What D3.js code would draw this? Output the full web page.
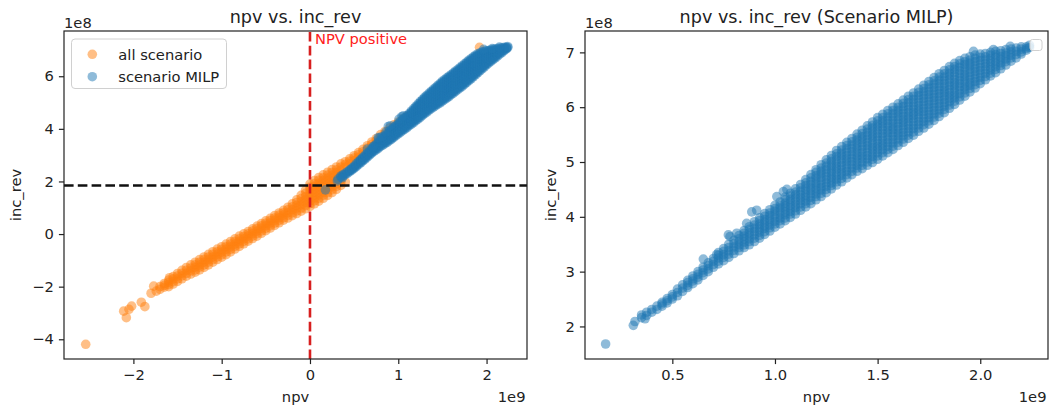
<!DOCTYPE html>
<html><head><meta charset="utf-8">
<script src="https://cdn.jsdelivr.net/npm/d3@7"></script>
<style>body{margin:0;background:#fff}svg{display:block}</style>
</head><body><svg id="c" width="1049" height="410"></svg>
<script>
// Units: npv in 1e9, inc_rev in 1e8 (as shown by the axis offset texts)
// ---- "scenario MILP" cloud ----
const milpColNpv = [0.35,0.375,0.4,0.425,0.45,0.475,0.5,0.525,0.55,0.575,0.6,0.625,0.65,0.675,0.7,0.725,0.75,0.775,0.8,0.825,0.85,0.875,0.9,0.925,0.95,0.975,1.0,1.025,1.05,1.075,1.1,1.125,1.15,1.175,1.2,1.225,1.25,1.275,1.3,1.325,1.35,1.375,1.4,1.425,1.45,1.475,1.5,1.525,1.55,1.575,1.6,1.625,1.65,1.675,1.7,1.725,1.75,1.775,1.8,1.825,1.85,1.875,1.9,1.925,1.95,1.975,2.0,2.025,2.05,2.075,2.1,2.125,2.15,2.175,2.2,2.225,2.24];
const milpColRev = [
[2.16,2.21],[2.20,2.26],[2.26,2.31],[2.31,2.37],[2.37,2.41,2.44],[2.43,2.47,2.51],[2.50,2.54,2.58],
[2.56,2.62,2.68],[2.64,2.70,2.76],[2.71,2.75,2.80,2.84],[2.78,2.83,2.87,2.92],[2.85,2.90,2.95,3.00],[2.93,2.98,3.03,3.08],[3.00,3.05,3.11,3.16],[3.08,3.13,3.19,3.24],
[3.14,3.19,3.25,3.30,3.35],[3.20,3.26,3.31,3.37,3.42],[3.26,3.32,3.38,3.44,3.50],[3.33,3.39,3.45,3.51,3.57],
[3.38,3.44,3.49,3.55,3.60,3.66],[3.44,3.49,3.54,3.60,3.65,3.70,3.75],[3.49,3.55,3.60,3.66,3.71,3.77,3.82],
[3.55,3.61,3.67,3.73,3.79,3.85,3.91],[3.61,3.66,3.72,3.77,3.82,3.87,3.93,3.98],[3.68,3.73,3.79,3.84,3.90,3.95,4.01,4.06],[3.74,3.80,3.85,3.91,3.96,4.02,4.07,4.13],
[3.81,3.87,3.92,3.98,4.04,4.10,4.15,4.21],[3.87,3.93,3.98,4.04,4.10,4.16,4.21,4.27],
[3.93,3.98,4.04,4.09,4.15,4.20,4.25,4.31,4.36],[3.99,4.05,4.10,4.16,4.21,4.27,4.32,4.38,4.43],[4.05,4.11,4.17,4.22,4.28,4.34,4.40,4.45,4.51],[4.12,4.18,4.24,4.30,4.35,4.41,4.47,4.53,4.59],
[4.18,4.24,4.29,4.35,4.40,4.46,4.51,4.57,4.62,4.68],[4.24,4.30,4.36,4.42,4.48,4.53,4.59,4.65,4.71,4.77],
[4.31,4.37,4.42,4.48,4.53,4.59,4.64,4.70,4.75,4.81,4.86],[4.37,4.43,4.49,4.54,4.60,4.66,4.72,4.78,4.83,4.89,4.95],[4.44,4.50,4.56,4.62,4.68,4.74,4.80,4.86,4.92,4.98,5.04],
[4.51,4.57,4.62,4.68,4.73,4.79,4.84,4.90,4.95,5.01,5.06,5.12],[4.58,4.64,4.69,4.75,4.81,4.87,4.92,4.98,5.04,5.10,5.15,5.21],[4.64,4.70,4.76,4.81,4.87,4.93,4.99,5.05,5.11,5.16,5.22,5.28],
[4.71,4.77,4.83,4.89,4.95,5.01,5.06,5.12,5.18,5.24,5.30,5.36],[4.77,4.83,4.89,4.95,5.01,5.07,5.13,5.19,5.25,5.31,5.37,5.43],
[4.83,4.89,4.94,5.00,5.06,5.11,5.17,5.23,5.28,5.34,5.40,5.45,5.51],[4.88,4.94,5.00,5.06,5.11,5.17,5.23,5.29,5.35,5.41,5.46,5.52,5.58],[4.94,5.00,5.06,5.12,5.18,5.24,5.30,5.36,5.42,5.48,5.54,5.60,5.66],
[4.99,5.05,5.10,5.16,5.22,5.27,5.33,5.39,5.45,5.50,5.56,5.62,5.67,5.73],[5.05,5.11,5.17,5.23,5.28,5.34,5.40,5.46,5.52,5.58,5.64,5.69,5.75,5.81],
[5.11,5.17,5.23,5.29,5.34,5.40,5.46,5.52,5.58,5.64,5.70,5.75,5.81,5.87],[5.17,5.23,5.29,5.35,5.41,5.47,5.53,5.58,5.64,5.70,5.76,5.82,5.88,5.94],
[5.23,5.29,5.35,5.41,5.47,5.53,5.59,5.64,5.70,5.76,5.82,5.88,5.94,6.00],[5.30,5.36,5.42,5.48,5.53,5.59,5.65,5.71,5.77,5.83,5.89,5.94,6.00,6.06],
[5.36,5.42,5.48,5.54,5.60,5.66,5.72,5.77,5.83,5.89,5.95,6.01,6.07,6.13],[5.43,5.49,5.55,5.61,5.67,5.73,5.79,5.84,5.90,5.96,6.02,6.08,6.14,6.20],
[5.49,5.55,5.61,5.67,5.73,5.79,5.85,5.90,5.96,6.02,6.08,6.14,6.20,6.26],[5.56,5.62,5.68,5.74,5.80,5.86,5.92,5.97,6.03,6.09,6.15,6.21,6.27,6.33],
[5.62,5.68,5.74,5.80,5.86,5.92,5.98,6.04,6.10,6.16,6.22,6.28,6.34,6.40],[5.69,5.75,5.81,5.87,5.93,5.99,6.05,6.11,6.17,6.23,6.29,6.35,6.41,6.47],
[5.76,5.82,5.88,5.94,6.00,6.06,6.12,6.18,6.24,6.30,6.36,6.42,6.48,6.54],[5.83,5.89,5.95,6.01,6.07,6.13,6.19,6.25,6.31,6.37,6.43,6.49,6.55,6.61],
[5.90,5.96,6.02,6.08,6.14,6.20,6.26,6.31,6.37,6.43,6.49,6.55,6.61,6.67],[5.98,6.04,6.10,6.16,6.21,6.27,6.33,6.39,6.45,6.51,6.57,6.62,6.68,6.74],
[6.05,6.11,6.17,6.22,6.28,6.34,6.40,6.45,6.51,6.57,6.63,6.69,6.74,6.80],[6.13,6.19,6.25,6.31,6.37,6.43,6.49,6.55,6.61,6.67,6.73,6.79,6.85],
[6.20,6.26,6.32,6.37,6.43,6.49,6.55,6.60,6.66,6.72,6.78,6.83,6.89],[6.28,6.34,6.40,6.45,6.51,6.57,6.63,6.69,6.75,6.80,6.86,6.92],
[6.35,6.41,6.47,6.53,6.59,6.65,6.71,6.77,6.83,6.89,6.95],[6.43,6.49,6.55,6.61,6.67,6.73,6.79,6.85,6.91,6.97],
[6.50,6.56,6.62,6.68,6.74,6.80,6.86,6.92,6.98],[6.57,6.62,6.68,6.73,6.79,6.84,6.89,6.95,7.00],[6.63,6.69,6.74,6.80,6.85,6.91,6.96,7.02],
[6.70,6.76,6.81,6.87,6.92,6.98,7.03],[6.77,6.83,6.88,6.94,6.99,7.05],[6.84,6.90,6.95,7.01,7.06],[6.90,6.96,7.02,7.08],[6.97,7.01,7.06,7.10],[7.04,7.07,7.10],[7.09,7.13]
];
// isolated "scenario MILP" points (outliers / edge bubbles)
const milpExtraNpv = [0.175,0.31,0.318,0.367,0.651,0.716,0.773,0.781,0.814,0.862,0.887,0.911,1.009,1.041,1.058,1.967,2.064,2.146];
const milpExtraRev = [1.68,2.02,2.09,2.14,3.23,3.31,3.67,3.64,3.70,3.88,4.09,4.12,4.37,4.46,4.50,7.02,7.05,7.11];

// ---- "all scenario" points that are visible (not hidden under the MILP cloud) ----
const allColNpv = [-1.70,-1.65,-1.60,-1.55,-1.50,-1.45,-1.40,-1.35,-1.30,-1.25,-1.20,-1.15,-1.10,-1.05,-1.00,-0.95,-0.90,-0.85,-0.80,-0.75,-0.70,-0.65,-0.60,-0.55,-0.50,-0.45,-0.40,-0.35,-0.30,-0.25,-0.20,-0.15,-0.10,-0.05,0.00,0.05,0.10,0.15,0.20,0.25,0.30,0.35,0.40,0.45,0.50,0.55,0.60,0.65,0.70,0.75,0.80,0.85,0.90,0.95,1.00,1.05,1.10];
const allColRev = [
[-2.10,-2.00],[-2.02,-1.95,-1.88],[-2.00,-1.92,-1.83,-1.75],[-1.90,-1.81,-1.71,-1.62],[-1.80,-1.70,-1.60,-1.50],[-1.70,-1.59,-1.49,-1.38],[-1.60,-1.49,-1.38,-1.27],[-1.52,-1.40,-1.29,-1.17],
[-1.45,-1.36,-1.26,-1.17,-1.07],[-1.36,-1.26,-1.17,-1.07,-0.97],[-1.27,-1.17,-1.07,-0.97,-0.87],[-1.17,-1.07,-0.97,-0.87,-0.77],[-1.07,-0.97,-0.87,-0.77,-0.67],[-0.97,-0.87,-0.77,-0.67,-0.57],
[-0.88,-0.78,-0.68,-0.58,-0.48],[-0.78,-0.68,-0.58,-0.48,-0.38],[-0.68,-0.58,-0.48,-0.38,-0.28],[-0.57,-0.47,-0.38,-0.28,-0.18],[-0.47,-0.37,-0.28,-0.18,-0.08],[-0.37,-0.28,-0.18,-0.09,0.01],
[-0.27,-0.18,-0.08,0.01,0.10],[-0.17,-0.08,0.02,0.11,0.20],[-0.08,0.02,0.11,0.21,0.30],[0.03,0.12,0.22,0.31,0.40],[0.13,0.22,0.32,0.41,0.50],[0.23,0.32,0.42,0.51,0.60],
[0.33,0.42,0.52,0.61,0.70],[0.43,0.52,0.62,0.71,0.80],[0.53,0.62,0.72,0.81,0.90],[0.61,0.71,0.82,0.92,1.02],[0.70,0.81,0.93,1.04,1.15],[0.78,0.88,0.99,1.09,1.20,1.30],
[0.87,0.99,1.11,1.23,1.35,1.47],[0.96,1.08,1.20,1.31,1.43,1.55,1.67],[1.05,1.16,1.26,1.37,1.48,1.58,1.69,1.79,1.90],[1.15,1.26,1.37,1.48,1.59,1.70,1.81,1.92,2.03],
[1.25,1.36,1.48,1.59,1.70,1.81,1.93,2.04,2.15],[1.36,1.47,1.58,1.69,1.81,1.92,2.03,2.14,2.25],[1.47,1.58,1.69,1.80,1.91,2.02,2.13,2.24,2.35],[1.58,1.69,1.80,1.91,2.02,2.12,2.23,2.34,2.45],
[1.70,1.81,1.91,2.02,2.13,2.23,2.34,2.44,2.55],[1.85,1.97,2.08,2.20,2.32,2.43,2.55,2.67],[1.98,2.55,2.65,2.75],[2.67,2.77,2.86],[2.79,2.89,2.98],[2.91,3.01,3.10],[3.03,3.13,3.22],
[3.17,3.27,3.36],[3.32,3.41,3.50],[3.45,3.54,3.63],[3.58,3.68,3.78],[3.72,3.81,3.90],[3.85,3.94,4.03],[3.98,4.07,4.15],[4.10,4.18,4.26],[4.23,4.30,4.37],[4.38,4.43,4.48]
];
const allExtraNpv = [-2.54,-2.11,-2.08,-2.02,-2.05,-1.91,-1.87,-1.80,-1.77,-1.74,-1.59,1.92];
const allExtraRev = [-4.19,-2.93,-3.18,-2.74,-2.86,-2.59,-2.76,-2.25,-1.98,-2.17,-1.66,7.10];

// reference lines
const npvZero = 0;
const incRevThreshold = 1.845;

// tick values
const leftXTicks = [-2,-1,0,1,2];
const leftYTicks = [-4,-2,0,2,4,6];
const rightXTicks = [0.5,1.0,1.5,2.0];
const rightYTicks = [2,3,4,5,6,7];

const seriesNames = ["all scenario","scenario MILP"];
const ORANGE = "#ff7f0e", BLUE = "#1f77b4";

function toPoints(colX, colY, exX, exY){
  const pts = [];
  colX.forEach((x,i)=>colY[i].forEach(y=>pts.push([x,y])));
  exX.forEach((x,i)=>pts.push([x, exY[i]]));
  return pts;
}
const milpPts = toPoints(milpColNpv, milpColRev, milpExtraNpv, milpExtraRev);
const allPts = toPoints(allColNpv, allColRev, allExtraNpv, allExtraRev);

const FONT = '"DejaVu Sans", sans-serif';
const FS = 14.7, INK = "#222", R = 4.8;
const svg = d3.select("#c");
const yTop = 31, yBottom = 359;

function marker(sel, color){
  return sel.attr("r",R).attr("fill",color).attr("fill-opacity",0.5);
}

function panel(id, left, right, xDom, yDom, xTicks, yTicks, xFmt, yFmt, title, series){
  const x = d3.scaleLinear().domain(xDom).range([left,right]);
  const y = d3.scaleLinear().domain(yDom).range([yBottom,yTop]);
  svg.append("clipPath").attr("id",id).append("rect")
    .attr("x",left).attr("y",yTop).attr("width",right-left).attr("height",yBottom-yTop);
  const g = svg.append("g").attr("clip-path",`url(#${id})`);
  series.forEach(s=>{
    marker(g.append("g").selectAll("circle").data(s.pts).join("circle")
      .attr("cx",d=>x(d[0])).attr("cy",d=>y(d[1])), s.color);
  });
  const ax = svg.append("g").attr("transform",`translate(0,${yBottom})`)
    .call(d3.axisBottom(x).tickValues(xTicks).tickFormat(xFmt).tickSize(5.1).tickPadding(5.5).tickSizeOuter(0));
  const ay = svg.append("g").attr("transform",`translate(${left},0)`)
    .call(d3.axisLeft(y).tickValues(yTicks).tickFormat(yFmt).tickSize(5.1).tickPadding(5.1).tickSizeOuter(0));
  [ax,ay].forEach(a=>{
    a.select(".domain").remove();
    a.attr("font-family",FONT).attr("font-size",FS);
    a.selectAll("text").attr("fill",INK);
    a.selectAll("line").attr("stroke",INK).attr("stroke-width",1.2);
  });
  const cx = (left+right)/2;
  svg.append("text").attr("x",cx).attr("y",22.8).attr("text-anchor","middle")
    .attr("font-family",FONT).attr("font-size",17.6).attr("fill",INK).text(title);
  svg.append("text").attr("x",left).attr("y",28).attr("font-family",FONT).attr("font-size",FS).attr("fill",INK).text("1e8");
  svg.append("text").attr("x",right-1.5).attr("y",401.5).attr("text-anchor","end").attr("font-family",FONT).attr("font-size",FS).attr("fill",INK).text("1e9");
  svg.append("text").attr("x",cx).attr("y",401.5).attr("text-anchor","middle").attr("font-family",FONT).attr("font-size",FS).attr("fill",INK).text("npv");
  return {x,y,g,cx};
}

// Left panel
const L = panel("clipL",64,527,[-2.786,2.458],[-4.75,7.72],leftXTicks,leftYTicks,d3.format("d"),d3.format("d"),
  "npv vs. inc_rev",[{pts:allPts,color:ORANGE},{pts:milpPts,color:BLUE}]);
svg.append("text").attr("transform","translate(20.5,195) rotate(-90)").attr("text-anchor","middle")
  .attr("font-family",FONT).attr("font-size",FS).attr("fill",INK).text("inc_rev");
// reference lines
L.g.append("path").attr("d",`M${L.x(npvZero)},${yBottom}V${yTop}`).attr("stroke","#d71f1f")
  .attr("stroke-width",2.6).attr("stroke-dasharray","9.6,4.2").attr("fill","none");
L.g.append("path").attr("d",`M64,${L.y(incRevThreshold)}H527`).attr("stroke","#111")
  .attr("stroke-width",2.6).attr("stroke-dasharray","9.6,4.2").attr("fill","none");
svg.append("text").attr("x",L.x(npvZero)+5).attr("y",43.5).attr("font-family",FONT).attr("font-size",FS)
  .attr("fill","#ff2020").text("NPV positive");
// legend
const lg = svg.append("g");
lg.append("rect").attr("x",71.5).attr("y",39).attr("width",155).attr("height",49.5).attr("rx",3.5)
  .attr("fill","#fff").attr("fill-opacity",0.8).attr("stroke","#d0d0d0").attr("stroke-width",1);
[ORANGE,BLUE].forEach((c,i)=>{
  marker(lg.append("circle").attr("cx",92.3).attr("cy",54.3+i*22.4), c);
  lg.append("text").attr("x",118.3).attr("y",54.3+i*22.4+5.2).attr("font-family",FONT).attr("font-size",FS)
    .attr("fill",INK).text(seriesNames[i]);
});

// Right panel
const Rp = panel("clipR",585,1048,[0.0746,2.33],[1.406,7.39],rightXTicks,rightYTicks,d3.format(".1f"),d3.format("d"),
  "npv vs. inc_rev (Scenario MILP)",[{pts:milpPts,color:BLUE}]);
svg.append("text").attr("transform","translate(555.5,195) rotate(-90)").attr("text-anchor","middle")
  .attr("font-family",FONT).attr("font-size",FS).attr("fill",INK).text("inc_rev");
// empty legend box
svg.append("rect").attr("x",1030).attr("y",39.5).attr("width",12).attr("height",11).attr("rx",2.5)
  .attr("fill","#fff").attr("fill-opacity",0.8).attr("stroke","#d0d0d0").attr("stroke-width",1);

// frames
[[64,527],[585,1048]].forEach(([a,b])=>{
  svg.append("rect").attr("x",a).attr("y",yTop).attr("width",b-a).attr("height",yBottom-yTop)
    .attr("fill","none").attr("stroke",INK).attr("stroke-width",1.2);
});
</script></body></html>
